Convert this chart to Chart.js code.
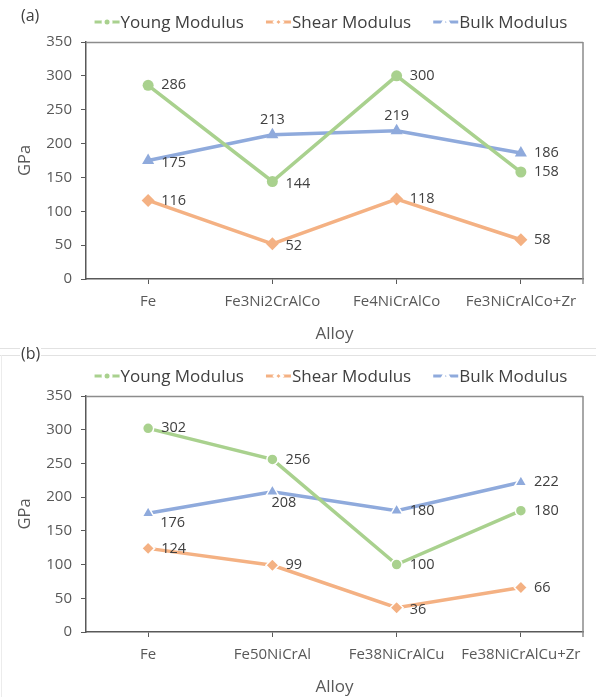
<!DOCTYPE html>
<html>
<head>
<meta charset="utf-8">
<script src="https://cdn.jsdelivr.net/npm/chart.js@4/dist/chart.umd.min.js"></script>
<style>
  html, body { margin: 0; padding: 0; background: #fff; }
  body { width: 596px; height: 697px; position: relative; overflow: hidden; font-family: "Open Sans", sans-serif; }
  canvas { position: absolute; left: 0; }
  #chartA { top: 0; }
  #chartB { top: 350px; }
  .rule { position: absolute; left: 0; width: 596px; height: 1px; background: #e2e2e2; }
  .edge { position: absolute; left: 1px; top: 355px; width: 1px; height: 342px; background: #ececec; }
  .tag { position: absolute; left: 20px; font-size: 16px; line-height: 20px; color: #404040; background: #fff; padding: 0 1px; }
</style>
</head>
<body>
<canvas id="chartA" width="596" height="348"></canvas>
<div class="rule" style="top:348px"></div>
<div class="rule" style="top:355px"></div>
<div class="edge"></div>
<canvas id="chartB" width="596" height="347"></canvas>
<div class="tag" style="top:5px">(a)</div>
<div class="tag" style="top:343px">(b)</div>

<script>
// ---- data ----
const seriesNames = ['Young Modulus', 'Shear Modulus', 'Bulk Modulus'];

const alloysA = ['Fe', 'Fe3Ni2CrAlCo', 'Fe4NiCrAlCo', 'Fe3NiCrAlCo+Zr'];
const youngA  = [286, 144, 300, 158];
const shearA  = [116, 52, 118, 58];
const bulkA   = [175, 213, 219, 186];

const alloysB = ['Fe', 'Fe50NiCrAl', 'Fe38NiCrAlCu', 'Fe38NiCrAlCu+Zr'];
const youngB  = [302, 256, 100, 180];
const shearB  = [124, 99, 36, 66];
const bulkB   = [176, 208, 180, 222];

const yMin = 0, yMax = 350, yStep = 50;
const yTitle = 'GPa';
const xTitle = 'Alloy';

// ---- styling ----
const FONT = '"Open Sans", "Noto Sans", sans-serif';
const TEXT = '#595959';
const DARK = '#404040';
const seriesColors = ['#a9d18e', '#f4b183', '#8faadc'];
const seriesMarkers = ['circle', 'rectRot', 'triangle'];
const markerSizes = [5.5, 6.5, 7];

// where each value label sits relative to its point
// r = right, rl = right & a bit lower, up = above, dr = below-right, dl = below from the point
const placesA = [
  ['r', 'rl', 'r', 'r'],
  ['r', 'rl', 'r', 'r'],
  ['rl', 'up', 'up', 'r']
];
const placesB = [
  ['r', 'r', 'r', 'r'],
  ['r', 'r', 'rl', 'r'],
  ['dr', 'dl', 'r', 'r']
];

const plotFrame = {
  id: 'plotFrame',
  beforeDatasetsDraw(chart) {
    const { ctx, chartArea: a } = chart;
    ctx.save();
    ctx.strokeStyle = '#8c8c8c';
    ctx.lineWidth = 1.5;
    ctx.beginPath();
    ctx.moveTo(a.left, a.top + 0.5);
    ctx.lineTo(a.right, a.top + 0.5);
    ctx.moveTo(a.right, a.top);
    ctx.lineTo(a.right, a.bottom + 5);
    ctx.stroke();
    ctx.restore();
  }
};

const valueLabels = {
  id: 'valueLabels',
  afterDatasetsDraw(chart, args, opts) {
    const ctx = chart.ctx;
    ctx.save();
    ctx.font = '14.5px ' + FONT;
    ctx.fillStyle = DARK;
    chart.data.datasets.forEach((ds, i) => {
      const meta = chart.getDatasetMeta(i);
      meta.data.forEach((pt, j) => {
        const text = String(ds.data[j]);
        const p = opts.places[i][j];
        let x = pt.x, y = pt.y;
        ctx.textBaseline = 'middle';
        if (p === 'r') { ctx.textAlign = 'left'; x += 13; }
        else if (p === 'rl') { ctx.textAlign = 'left'; x += 13; y += 2.5; }
        else if (p === 'up') { ctx.textAlign = 'center'; y -= 15; }
        else if (p === 'dr') { ctx.textAlign = 'left'; x += 12; y += 10; }
        else if (p === 'dl') { ctx.textAlign = 'left'; x -= 1; y += 11; }
        ctx.fillText(text, x, y);
      });
    });
    ctx.restore();
  }
};

const lineLegend = {
  id: 'lineLegend',
  afterDraw(chart, args, opts) {
    const ctx = chart.ctx;
    ctx.save();
    ctx.font = '17px ' + FONT;
    const sw = 25, gapText = 1, gapItem = 22;
    const items = chart.data.datasets.map(ds => ({ ds, w: sw + gapText + ctx.measureText(ds.label).width }));
    const total = items.reduce((s, it) => s + it.w, 0) + gapItem * (items.length - 1);
    let x = opts.centerX - total / 2;
    const y = opts.y;
    items.forEach(({ ds, w }) => {
      ctx.strokeStyle = ds.borderColor;
      ctx.lineWidth = 3;
      ctx.beginPath();
      ctx.moveTo(x, y);
      ctx.lineTo(x + sw, y);
      ctx.stroke();
      ctx.fillStyle = ds.borderColor;
      ctx.strokeStyle = '#ffffff';
      Chart.helpers.drawPoint(ctx, { pointStyle: ds.pointStyle, radius: 4, borderWidth: 1.5, rotation: 0 }, x + sw / 2, y);
      ctx.fillStyle = DARK;
      ctx.textAlign = 'left';
      ctx.textBaseline = 'middle';
      ctx.fillText(ds.label, x + sw + gapText, y + 1);
      x += w + gapItem;
    });
    ctx.restore();
  }
};

function makeDatasets(values, outlined) {
  return values.map((vals, i) => ({
    label: seriesNames[i],
    data: vals,
    borderColor: seriesColors[i],
    backgroundColor: seriesColors[i],
    borderWidth: 3.5,
    pointStyle: seriesMarkers[i],
    pointRadius: markerSizes[i],
    pointBackgroundColor: seriesColors[i],
    pointBorderColor: outlined ? '#ffffff' : seriesColors[i],
    pointBorderWidth: outlined ? 1.5 : 0,
    tension: 0
  }));
}

function makeChart(id, labels, values, places, geom, outlined) {
  return new Chart(document.getElementById(id), {
    type: 'line',
    data: { labels, datasets: makeDatasets(values, outlined) },
    plugins: [plotFrame, valueLabels, lineLegend],
    options: {
      responsive: false,
      devicePixelRatio: 1,
      animation: false,
      events: [],
      layout: { padding: { top: geom.top, right: 13, left: 0, bottom: 0 } },
      plugins: {
        legend: { display: false },
        tooltip: { enabled: false },
        valueLabels: { places },
        lineLegend: { centerX: 331, y: geom.legendY }
      },
      scales: {
        x: {
          type: 'category',
          offset: true,
          ticks: { color: TEXT, font: { family: FONT, size: 15 }, padding: geom.xTickPad, maxRotation: 0, autoSkip: false },
          grid: { offset: false, drawOnChartArea: false, drawTicks: true, tickLength: 5, color: '#595959' },
          border: { display: true, color: '#595959', width: 1.5 },
          title: { display: true, text: xTitle, color: TEXT, font: { family: FONT, size: 17 }, padding: { top: 0, bottom: geom.xTitlePad } },
          afterFit(s) { s.height = geom.xHeight; }
        },
        y: {
          min: yMin,
          max: yMax,
          ticks: { stepSize: yStep, color: TEXT, font: { family: FONT, size: 15 }, padding: 9 },
          grid: { drawOnChartArea: false, drawTicks: true, tickLength: 5, color: '#595959' },
          border: { display: true, color: '#595959', width: 1.5 },
          title: { display: true, text: yTitle, color: TEXT, font: { family: FONT, size: 16.5 }, padding: { top: 15, bottom: 0 } },
          afterFit(s) { s.width = 86; }
        }
      }
    }
  });
}

makeChart('chartA', alloysA, [youngA, shearA, bulkA], placesA,
  { top: 42, xHeight: 348 - 279, xTickPad: 9, xTitlePad: 4, legendY: 22 }, false);
makeChart('chartB', alloysB, [youngB, shearB, bulkB], placesB,
  { top: 46, xHeight: 347 - 282, xTickPad: 9, xTitlePad: 0, legendY: 26 }, true);
</script>
</body>
</html>
